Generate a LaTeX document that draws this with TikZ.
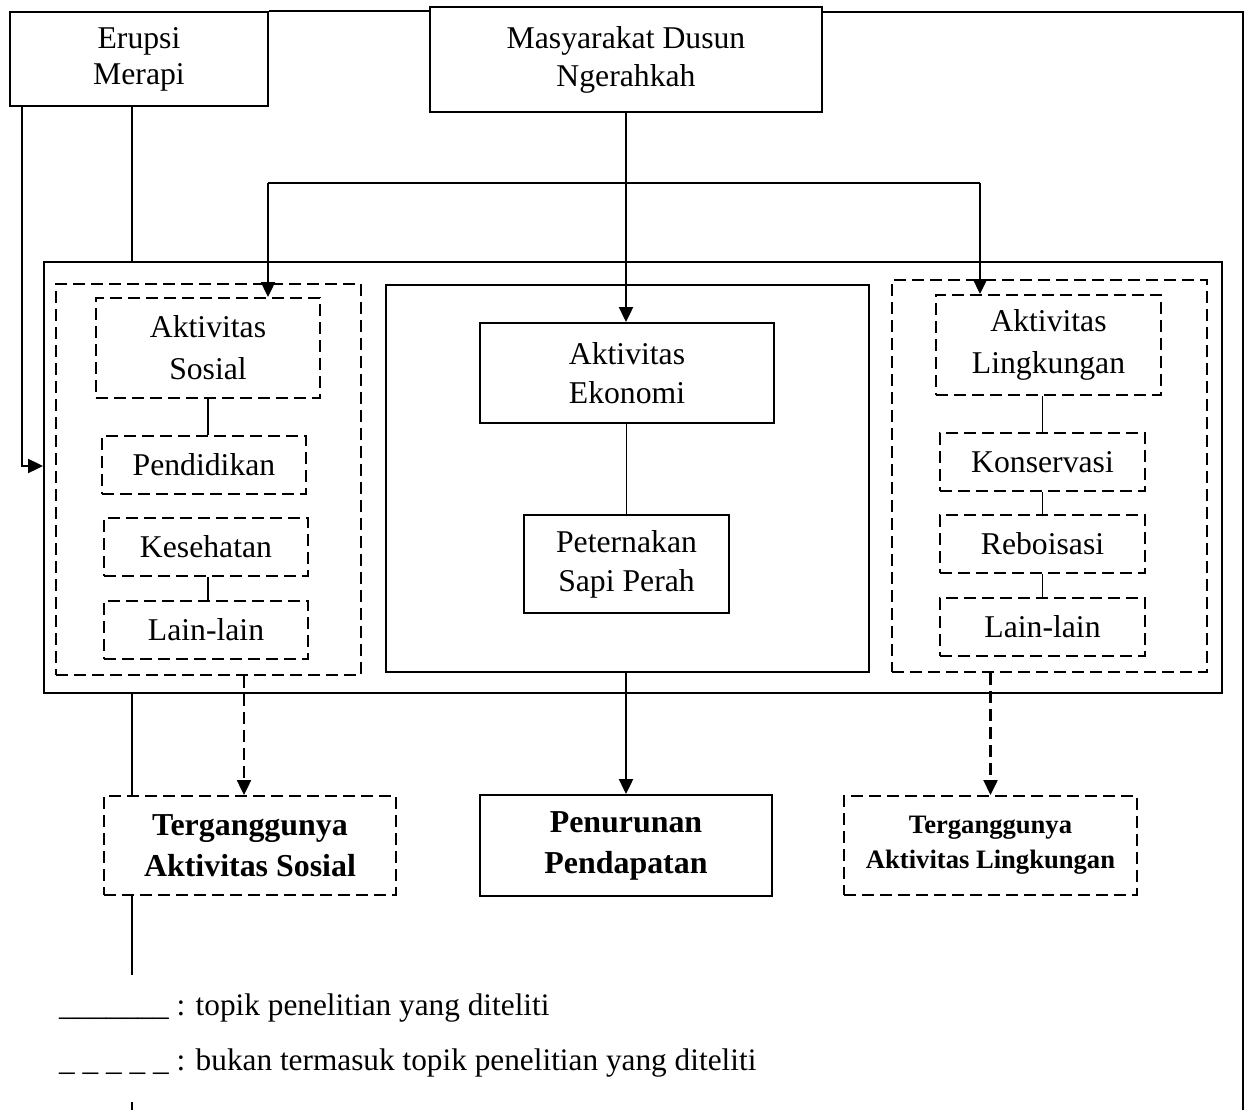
\documentclass[tikz,border=0pt]{standalone}
\usepackage{fontspec}
\setmainfont{Liberation Serif}
\usetikzlibrary{arrows.meta}
\begin{document}
\begin{tikzpicture}[x=1pt,y=-1pt,
  box/.style={draw, line width=2pt, rectangle, inner sep=0pt, align=center,
    font=\fontsize{31.7}{40}\selectfont},
  dbox/.style={box, dash pattern=on 12pt off 6pt},
  boldbox/.style={font=\fontsize{31.9}{41}\selectfont\bfseries},
  smallbold/.style={font=\fontsize{26.6}{35}\selectfont\bfseries},
  conn/.style={line width=2pt},
  inconn/.style={line width=1.5pt},
  arr/.style={line width=2.4pt, -{Triangle[length=15pt,width=14pt]}},
  darr/.style={arr, dash pattern=on 12pt off 6pt},
  legend/.style={inner sep=0pt, font=\fontsize{31.3}{38}\selectfont}
]
\useasboundingbox (0,0) rectangle (1249,1110);
\coordinate (bb) at (1249,1110);

% top boxes
\node[box, minimum width=258pt, minimum height=94pt, font=\fontsize{31.7}{36}\selectfont] (erupsi) at (139,59) {Erupsi\\Merapi};
\node[box, minimum width=392pt, minimum height=105pt, font=\fontsize{31.7}{38}\selectfont] (masy) at (626,59.5) {Masyarakat Dusun\\Ngerahkah};

% big frame
\node[box, minimum width=1178pt, minimum height=431pt] (big) at (633,477.5) {};

% left group
\node[dbox, minimum width=305pt, minimum height=391pt] (leftd) at (208.5,479.5) {};
\node[dbox, minimum width=224pt, minimum height=100pt, font=\fontsize{31.7}{42}\selectfont] (sosial) at (208,348) {Aktivitas\\Sosial};
\node[dbox, minimum width=204pt, minimum height=58pt] (pend) at (204,465) {Pendidikan};
\node[dbox, minimum width=204pt, minimum height=58pt] (kes) at (206,547) {Kesehatan};
\node[dbox, minimum width=204pt, minimum height=58pt] (lainL) at (206,630) {Lain-lain};

% middle group
\node[box, minimum width=483pt, minimum height=387pt] (mid) at (627.5,478.5) {};
\node[box, minimum width=294pt, minimum height=100pt, font=\fontsize{31.7}{39}\selectfont] (ekon) at (627,373) {Aktivitas\\Ekonomi};
\node[box, minimum width=205pt, minimum height=98pt, font=\fontsize{31.7}{39}\selectfont] (peter) at (626.5,564) {Peternakan\\Sapi Perah};

% right group
\node[dbox, minimum width=315pt, minimum height=392pt] (rightd) at (1049.5,476) {};
\node[dbox, minimum width=225pt, minimum height=100pt, font=\fontsize{31.7}{42}\selectfont] (ling) at (1048.5,345) {Aktivitas\\Lingkungan};
\node[dbox, minimum width=205pt, minimum height=58pt] (kons) at (1042.5,462) {Konservasi};
\node[dbox, minimum width=205pt, minimum height=58pt] (rebo) at (1042.5,544) {Reboisasi};
\node[dbox, minimum width=205pt, minimum height=58pt] (lainR) at (1042.5,627) {Lain-lain};

% bottom boxes
\node[dbox, boldbox, minimum width=292pt, minimum height=99pt] (tsos) at (250,845.5) {Terganggunya\\Aktivitas Sosial};
\node[box, boldbox, minimum width=292pt, minimum height=101pt] (penur) at (626,845.5) {Penurunan\\Pendapatan};
\node[dbox, smallbold, minimum width=293pt, minimum height=99pt] (tling) at (990.5,845.5) {Terganggunya\\Aktivitas Lingkungan};

% outer frame lines
\coordinate (fr) at (1243,12);
\draw[conn] (erupsi.north east) -- (erupsi.north east -| masy.west);
\draw[conn] (masy.east |- fr) -- (fr) -- (fr |- bb);

% Erupsi connectors
\coordinate (xa) at (22,466);
\draw[arr] (xa |- erupsi.south) |- (xa -| big.west);
\coordinate (xb) at (132,975);
\draw[conn] (xb |- erupsi.south) -- (xb |- big.north);
\draw[conn] (xb |- big.south) -- (xb |- tsos.north);
\draw[conn] (xb |- tsos.south) -- (xb);
\coordinate (xleg) at (132,1102);
\draw[conn] (xleg) -- (xleg |- bb);

% Masyarakat connectors
\coordinate (hl) at (268,183.5);
\coordinate (hr) at (980,183.5);
\draw[conn] (hl) -- (hr);
\draw[arr] (hl) -- (hl |- sosial.north);
\draw[arr] (hr) -- (hr |- ling.north);
\draw[arr] (masy.south) -- (masy.south |- ekon.north);

% inner connectors
\draw[inconn] (sosial.south) -- (sosial.south |- pend.north);
\draw[inconn] (kes.south -| sosial.south) -- (lainL.north -| sosial.south);
\draw[inconn] (ekon.south -| peter.north) -- (peter.north);
\draw[inconn] (kons.north) -- (kons.north |- ling.south);
\draw[inconn] (kons.south) -- (rebo.north);
\draw[inconn] (rebo.south) -- (lainR.north);

% outcome arrows
\coordinate (xd) at (244,0);
\draw[darr] (xd |- leftd.south) -- (xd |- tsos.north);
\draw[arr] (mid.south -| penur.north) -- (penur.north);
\draw[darr] (rightd.south -| tling.north) -- (tling.north);

% legend
\node[legend, anchor=base west] (leg1) at (59,1015) {\_\_\_\_\_\_\_ : topik penelitian yang diteliti};
\node[legend, anchor=base west] (leg2) at (59,1070) {\_ \_ \_ \_ \_ : bukan termasuk topik penelitian yang diteliti};
\end{tikzpicture}
\end{document}
